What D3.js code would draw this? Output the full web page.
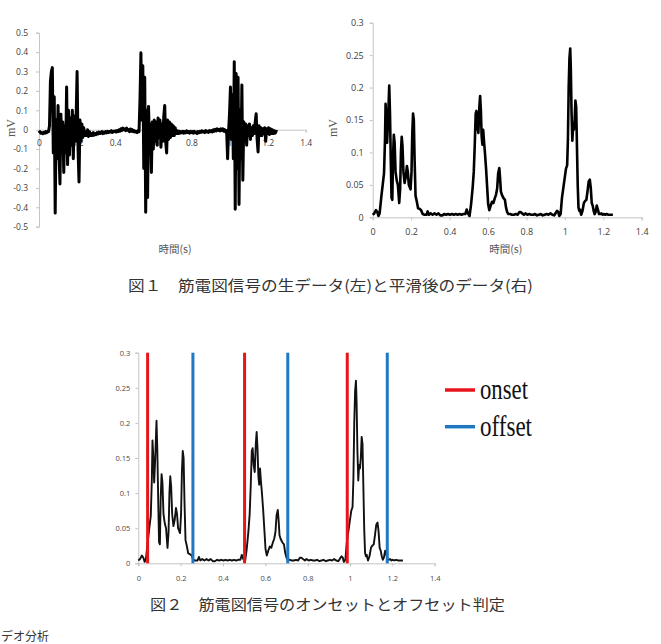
<!DOCTYPE html>
<html>
<head>
<meta charset="utf-8">
<script src="https://cdn.jsdelivr.net/npm/d3@7"></script>
<style>
  body { margin: 0; background: #fff; }
  svg { display: block; }
</style>
</head>
<body>
<svg id="page" width="661" height="644"></svg>
<script>
// ── Data ─────────────────────────────────────────────────────────────
// raw EMG, one sample every 5 ms from t = 0
const rawStart = 0;
const rawStep = 0.005;
const rawValues = [
  -0.005, -0.012, -0.018, -0.015, -0.02, -0.014, -0.018, -0.01, -0.015, -0.008,
  -0.01, 0.02, 0.25, 0.30, 0.32, -0.12, 0.17, -0.43, 0.05, -0.15,
  0.125, -0.12, -0.28, 0.08, -0.10, 0.04, -0.22, 0.02, -0.12, 0.22,
  -0.18, 0.10, -0.13, 0.06, -0.08, 0.10, -0.15, 0.07, -0.06, 0.07,
  0.30, -0.10, -0.27, 0.05, -0.06, 0.03, -0.04, 0.01, -0.03, -0.01,
  -0.03, 0.0, -0.035, -0.01, -0.03, -0.02, -0.03, -0.015, -0.028, -0.02,
  -0.025, -0.015, -0.022, -0.012, -0.02, -0.018, -0.01, -0.02, -0.012, -0.018,
  -0.01, -0.016, -0.008, -0.015, -0.01, -0.012, -0.005, -0.014, -0.008, -0.01,
  -0.006, -0.012, -0.004, -0.01, 0.0, -0.008, 0.005, -0.004, 0.008, 0.0,
  0.005, -0.005, 0.008, -0.003, 0.0, -0.01, 0.004, -0.008, 0.0, -0.01,
  -0.005, -0.012, -0.008, -0.015, -0.005, -0.01, 0.15, 0.397, 0.05, 0.33,
  -0.20, 0.27, -0.425, 0.10, -0.35, 0.12, -0.08, 0.03, -0.22, 0.04,
  -0.10, 0.05, -0.06, 0.04, -0.08, 0.06, -0.04, 0.05, -0.09, 0.03,
  -0.06, 0.07, 0.125, -0.06, -0.12, 0.05, -0.05, 0.04, -0.04, 0.03,
  -0.03, 0.02, -0.03, 0.01, -0.02, -0.005, -0.02, -0.008, -0.018, -0.01,
  -0.015, -0.008, -0.018, -0.01, -0.016, -0.006, -0.014, -0.01, -0.018, -0.008,
  -0.015, -0.01, -0.018, -0.008, -0.016, -0.012, -0.02, -0.01, -0.015, -0.008,
  -0.014, -0.006, -0.012, -0.008, -0.015, -0.005, -0.012, -0.008, -0.014, -0.004,
  -0.01, -0.004, -0.012, 0.0, -0.008, 0.002, -0.006, 0.004, -0.004, 0.002,
  -0.006, 0.004, -0.004, 0.005, -0.008, 0.0, -0.012, -0.005, -0.15, -0.01,
  0.08, 0.22, -0.05, 0.18, -0.15, 0.35, -0.41, 0.29, -0.20, 0.27,
  -0.385, 0.10, -0.15, 0.23, -0.26, 0.04, -0.05, 0.03, -0.08, 0.02,
  -0.03, 0.03, -0.05, 0.01, -0.03, 0.02, -0.02, 0.04, 0.082, -0.05,
  -0.115, 0.02, -0.03, 0.01, -0.03, 0.005, -0.02, 0.01, -0.06, 0.005,
  -0.02, 0.01, -0.025, 0.005, -0.02, 0.0, -0.02, -0.005, -0.018, -0.008,
  -0.012
];

// smoothed EMG (read at irregular times)
const smoothTimes = [
  0.000, 0.008, 0.017, 0.024, 0.030, 0.036, 0.045, 0.052, 0.059, 0.064,
  0.067, 0.071, 0.075, 0.080, 0.086, 0.090, 0.094, 0.098, 0.102, 0.106,
  0.110, 0.114, 0.119, 0.125, 0.131, 0.138, 0.143, 0.147, 0.151, 0.155,
  0.160, 0.166, 0.172, 0.178, 0.183, 0.188, 0.197, 0.202, 0.206, 0.210,
  0.214, 0.218, 0.223, 0.229, 0.236, 0.244, 0.252, 0.260, 0.270, 0.280,
  0.286, 0.293, 0.302, 0.312, 0.322, 0.332, 0.342, 0.352, 0.362, 0.372,
  0.382, 0.392, 0.402, 0.412, 0.422, 0.432, 0.442, 0.452, 0.462, 0.472,
  0.482, 0.489, 0.496, 0.504, 0.512, 0.520, 0.526, 0.531, 0.536, 0.540,
  0.545, 0.550, 0.555, 0.559, 0.563, 0.567, 0.571, 0.575, 0.579, 0.584,
  0.590, 0.596, 0.601, 0.607, 0.614, 0.621, 0.628, 0.636, 0.642, 0.648,
  0.653, 0.659, 0.663, 0.667, 0.672, 0.680, 0.688, 0.694, 0.700, 0.706,
  0.715, 0.725, 0.735, 0.745, 0.755, 0.763, 0.770, 0.778, 0.787, 0.795,
  0.805, 0.815, 0.825, 0.835, 0.845, 0.855, 0.865, 0.875, 0.885, 0.895,
  0.905, 0.915, 0.925, 0.935, 0.945, 0.953, 0.960, 0.966, 0.971, 0.978,
  0.985, 0.992, 0.999, 1.006, 1.012, 1.016, 1.020, 1.024, 1.028, 1.031,
  1.035, 1.039, 1.043, 1.047, 1.051, 1.055, 1.059, 1.063, 1.067, 1.071,
  1.075, 1.079, 1.085, 1.092, 1.099, 1.105, 1.112, 1.118, 1.124, 1.130,
  1.135, 1.140, 1.145, 1.150, 1.155, 1.160, 1.166, 1.172, 1.178, 1.184,
  1.190, 1.196, 1.202, 1.210, 1.218, 1.226, 1.234, 1.242, 1.250
];
const smoothValues = [
  0.004, 0.006, 0.011, 0.008, 0.002, 0.006, 0.032, 0.050, 0.068, 0.120,
  0.175, 0.150, 0.115, 0.150, 0.203, 0.160, 0.090, 0.030, 0.027, 0.095,
  0.127, 0.115, 0.070, 0.057, 0.050, 0.022, 0.045, 0.100, 0.124, 0.110,
  0.070, 0.053, 0.062, 0.079, 0.070, 0.050, 0.043, 0.070, 0.130, 0.160,
  0.150, 0.090, 0.033, 0.025, 0.014, 0.013, 0.011, 0.005, 0.004, 0.004,
  0.009, 0.004, 0.006, 0.004, 0.006, 0.004, 0.006, 0.003, 0.003, 0.005,
  0.004, 0.005, 0.004, 0.005, 0.004, 0.005, 0.004, 0.005, 0.004, 0.005,
  0.005, 0.012, 0.006, 0.002, 0.020, 0.045, 0.070, 0.110, 0.160, 0.164,
  0.140, 0.130, 0.170, 0.187, 0.165, 0.125, 0.112, 0.135, 0.118, 0.100,
  0.075, 0.045, 0.020, 0.011, 0.018, 0.024, 0.022, 0.030, 0.035, 0.045,
  0.068, 0.076, 0.060, 0.040, 0.035, 0.030, 0.027, 0.015, 0.008, 0.005,
  0.005, 0.004, 0.004, 0.005, 0.004, 0.008, 0.008, 0.006, 0.004, 0.006,
  0.004, 0.005, 0.004, 0.004, 0.005, 0.003, 0.004, 0.005, 0.003, 0.004,
  0.005, 0.004, 0.006, 0.004, 0.003, 0.007, 0.010, 0.008, 0.002, 0.005,
  0.030, 0.045, 0.060, 0.075, 0.080, 0.120, 0.200, 0.245, 0.260, 0.230,
  0.160, 0.118, 0.140, 0.135, 0.150, 0.180, 0.170, 0.110, 0.050, 0.015,
  0.010, 0.012, 0.004, 0.010, 0.022, 0.025, 0.027, 0.040, 0.055, 0.058,
  0.045, 0.022, 0.018, 0.010, 0.005, 0.008, 0.018, 0.012, 0.005, 0.005,
  0.006, 0.004, 0.005, 0.004, 0.005, 0.004, 0.004, 0.004, 0.004
];

const onsetTimes = [0.044, 0.502, 0.987];
const offsetTimes = [0.258, 0.706, 1.176];

const timeTicks = [0, 0.2, 0.4, 0.6, 0.8, 1, 1.2, 1.4];
const rawTicks = [-0.5, -0.4, -0.3, -0.2, -0.1, 0, 0.1, 0.2, 0.3, 0.4, 0.5];
const smoothTicks = [0, 0.05, 0.1, 0.15, 0.2, 0.25, 0.3];

const legendLabels = ["onset", "offset"];
const yTitle = "mV";
const xTitle = "時間(s)";
const caption1 = "図１　筋電図信号の生データ(左)と平滑後のデータ(右)";
const caption2 = "図２　筋電図信号のオンセットとオフセット判定";
const pageTail = "デオ分析";

// ── Setup ────────────────────────────────────────────────────────────
const svg = d3.select("#page");
svg.append("rect").attr("width", 661).attr("height", 644).attr("fill", "#fff");

const AXIS = "#c4c4c4";
const LABEL = "#404040";
const fmt = d => String(+d.toFixed(2));

function styleAxis(g, size, color) {
    g.selectAll(".domain").attr("stroke", AXIS).attr("stroke-width", 1);
    g.selectAll(".tick line").attr("stroke", AXIS);
    g.selectAll(".tick text")
        .attr("font-family", "'Open Sans', sans-serif")
        .attr("font-size", size).attr("fill", color);
}

function drawChart(opt) {
    const x = d3.scaleLinear().domain([0, 1.4]).range(opt.xr);
    const y = d3.scaleLinear().domain(opt.yd).range(opt.yr);
    const g = svg.append("g");

    const ya = g.append("g").attr("transform", `translate(${opt.xr[0]},0)`)
        .call(d3.axisLeft(y).tickValues(opt.yTicks).tickFormat(fmt).tickSizeOuter(0).tickSize(3).tickPadding(opt.yPad));
    styleAxis(ya, opt.fs, opt.labelColor);

    const xa = g.append("g").attr("transform", `translate(0,${y(0)})`)
        .call(d3.axisBottom(x).tickValues(timeTicks).tickFormat(fmt).tickSizeOuter(0).tickSize(3).tickPadding(opt.xPad));
    styleAxis(xa, opt.fs, opt.labelColor);

    return { x, y, g };
}

// ── Figure 1 left: raw signal ────────────────────────────────────────
const c1 = drawChart({ xr: [39, 305.7], yd: [-0.5, 0.5], yr: [226.7, 32.7],
    yTicks: rawTicks, fs: 8.5, yPad: 8, xPad: 7, labelColor: LABEL });
const rawLine = d3.line()
    .x((d, i) => c1.x(rawStart + i * rawStep))
    .y(d => c1.y(d));
c1.g.append("path").datum(rawValues).attr("d", rawLine)
    .attr("fill", "none").attr("stroke", "#000").attr("stroke-width", 3)
    .attr("stroke-linejoin", "round");

// ── Figure 1 right: smoothed ─────────────────────────────────────────
const c2 = drawChart({ xr: [372.7, 641.7], yd: [0, 0.3], yr: [217.3, 22.7],
    yTicks: smoothTicks, fs: 9, yPad: 6, xPad: 8, labelColor: LABEL });
const smoothLine = sc => d3.line()
    .x((d, i) => sc.x(smoothTimes[i]))
    .y(d => sc.y(d));
c2.g.append("path").datum(smoothValues).attr("d", smoothLine(c2))
    .attr("fill", "none").attr("stroke", "#000").attr("stroke-width", 2.6)
    .attr("stroke-linejoin", "round");

// axis titles
[[11, 128, 175], [333, 128, 505.7]].forEach(([tx, ty, cx]) => {
    svg.append("text").attr("transform", `translate(${tx + 4},${ty}) rotate(-90)`)
        .attr("text-anchor", "middle").attr("font-family", "'Liberation Serif', serif")
        .attr("font-size", 12).attr("fill", "#555").text(yTitle);
    svg.append("text").attr("x", cx).attr("y", 253)
        .attr("text-anchor", "middle").attr("font-family", "'Noto Sans CJK JP', sans-serif")
        .attr("font-size", 10.5).attr("fill", "#555").text(xTitle);
});

// ── Figure 2: onset / offset ─────────────────────────────────────────
const c3 = drawChart({ xr: [138.3, 434.7], yd: [0, 0.3], yr: [563.3, 352.7],
    yTicks: smoothTicks, fs: 7.5, yPad: 5, xPad: 9, labelColor: "#4a4a4a" });
c3.g.append("path").datum(smoothValues).attr("d", smoothLine(c3))
    .attr("fill", "none").attr("stroke", "#111").attr("stroke-width", 1.9)
    .attr("stroke-linejoin", "round");

const markers = onsetTimes.map(t => ({ t, c: "#e8141b" }))
    .concat(offsetTimes.map(t => ({ t, c: "#1f78c1" })));
c3.g.selectAll("line.mark").data(markers).enter().append("line")
    .attr("class", "mark")
    .attr("x1", d => c3.x(d.t)).attr("x2", d => c3.x(d.t))
    .attr("y1", c3.y(0)).attr("y2", c3.y(0.3))
    .attr("stroke", d => d.c).attr("stroke-width", 3);

// legend
const legendColors = ["#e8141b", "#1f78c1"];
const legendWidths = [48, 52];
legendLabels.forEach((lab, i) => {
    const ly = 390 + i * 36.7;
    svg.append("line").attr("x1", 445).attr("x2", 475).attr("y1", ly).attr("y2", ly)
        .attr("stroke", legendColors[i]).attr("stroke-width", 3.5);
    svg.append("text").attr("x", 480).attr("y", ly + 9)
        .attr("font-family", "'Liberation Serif', serif").attr("font-size", 29)
        .attr("textLength", legendWidths[i]).attr("lengthAdjust", "spacingAndGlyphs")
        .attr("fill", "#111").text(lab);
});

// ── Captions ─────────────────────────────────────────────────────────
svg.append("text").attr("x", 128).attr("y", 291)
    .attr("font-family", "'Noto Sans CJK JP', sans-serif").attr("font-size", 15)
    .attr("textLength", 405).attr("lengthAdjust", "spacingAndGlyphs")
    .attr("fill", "#333").text(caption1);
svg.append("text").attr("x", 150).attr("y", 610)
    .attr("font-family", "'Noto Sans CJK JP', sans-serif").attr("font-size", 15)
    .attr("textLength", 355).attr("lengthAdjust", "spacingAndGlyphs")
    .attr("fill", "#333").text(caption2);
svg.append("text").attr("x", 1).attr("y", 641)
    .attr("font-family", "'Noto Sans CJK JP', sans-serif").attr("font-size", 12)
    .attr("fill", "#333").text(pageTail);
</script>
</body>
</html>
